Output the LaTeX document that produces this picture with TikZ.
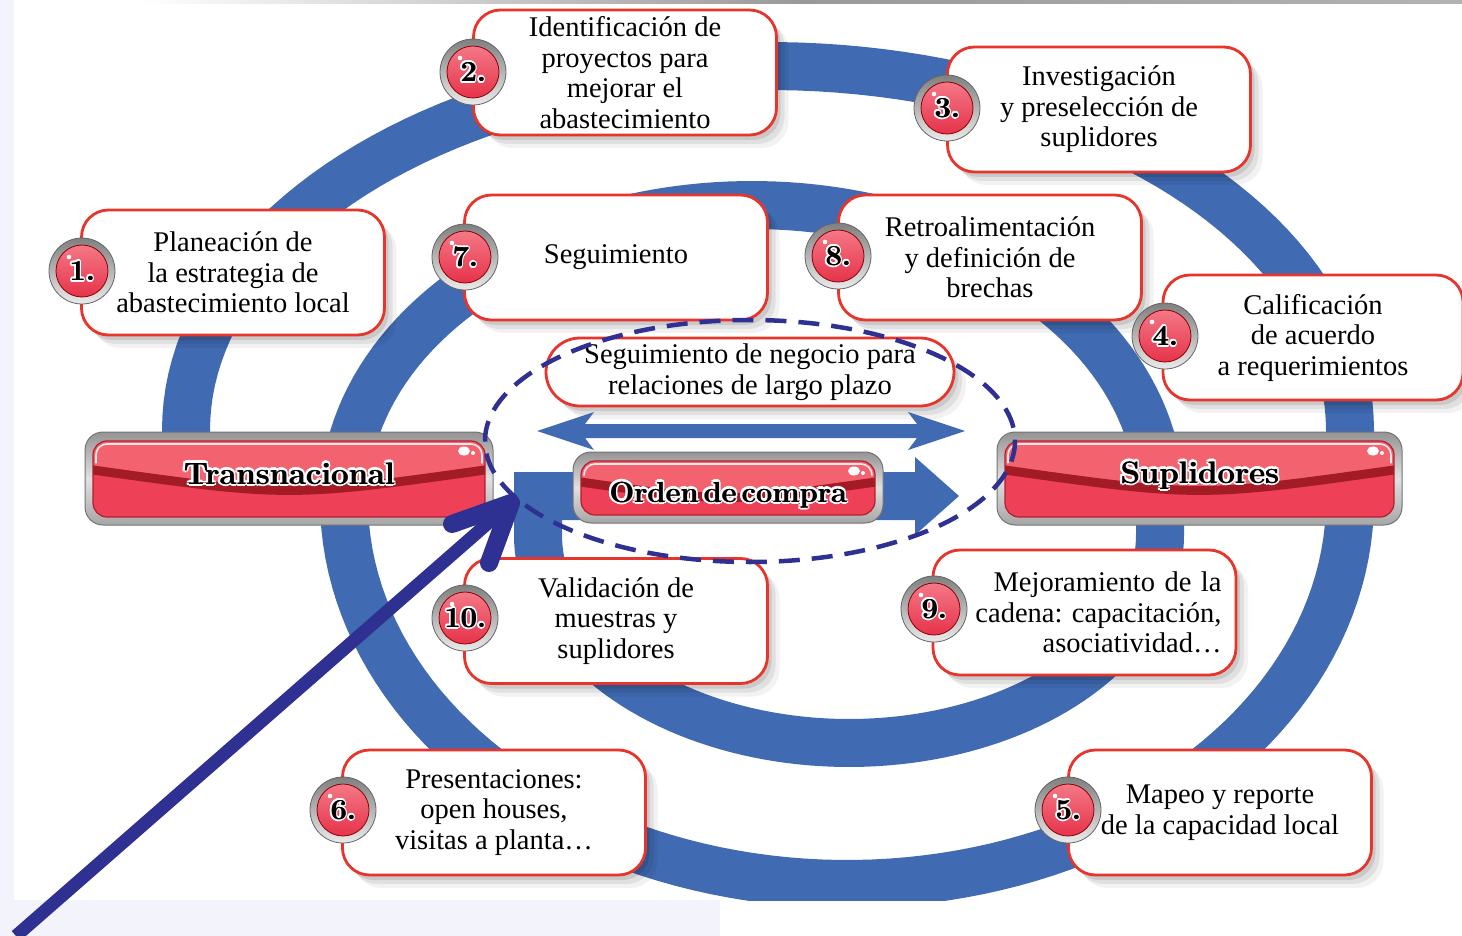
\documentclass[tikz,border=0pt]{standalone}
\usepackage{fontspec}
\newfontfamily\boxfont{Liberation Serif}
\usetikzlibrary{calc,shadows}
\definecolor{ringblue}{HTML}{406AB2}
\definecolor{boxred}{HTML}{E8352B}
\definecolor{navy}{HTML}{2E3192}
\definecolor{btnred}{HTML}{EE4056}
\definecolor{btnpink}{HTML}{F2636F}
\definecolor{btndark}{HTML}{A31B25}
\definecolor{btnedge}{HTML}{B51E2C}
\definecolor{badgered}{HTML}{E6334B}
\definecolor{badgepink}{HTML}{F47886}
\definecolor{lav}{HTML}{F3F3FB}
\newcommand\btnfont{\fontsize{31}{36}\selectfont\bfseries}
\newcommand\ordfont{\fontsize{29}{32}\selectfont\bfseries}
\newcommand\numfont{\fontsize{29}{32}\selectfont\bfseries}
\tikzset{
  softshadow/.style={
    drop shadow={shadow xshift=4pt,shadow yshift=-5pt,opacity=.10,fill=black},
    drop shadow={shadow xshift=8pt,shadow yshift=-9pt,opacity=.07,fill=black},
    drop shadow={shadow xshift=12pt,shadow yshift=-13pt,opacity=.05,fill=black}},
  box/.style={rectangle, draw=boxred, line width=2.8, fill=white, rounded corners=27,
    minimum width=303, minimum height=125, align=center, inner sep=0,
    font=\boxfont\fontsize{28.5}{30.5}\selectfont\frenchspacing, softshadow},
  spiral/.style={draw=ringblue, line width=48, line join=miter},
  btnframe/.style={rectangle, rounded corners=18, draw=black!55, line width=1,
    top color=black!42, bottom color=black!35, middle color=black!12, inner sep=0},
  badgering/.style={circle, minimum size=66, inner sep=0, draw=black!60, line width=.8,
    top color=black!50, bottom color=black!8},
  badgecore/.style={circle, minimum size=52, inner sep=0, draw=black!45!red, line width=.8,
    top color=badgepink, bottom color=badgered},
}
% outlined text: name, position, anchor, font, outline radius, text
\newcommand\outtext[6]{%
  \foreach \aa in {0,30,...,330}{%
    \node[text=white, font=#4, inner sep=0, anchor=#3] (#1o\aa) at ($(#2)+(\aa:#5)$) {#6};}
  \node[text=black, font=#4, inner sep=0, anchor=#3] (#1b) at ($(#2)+(0.7,0)$) {#6};
  \node[text=black, font=#4, inner sep=0, anchor=#3] (#1) at (#2) {#6};
}
% button: name, x1, y1, x2, y2, baseline y, font, text
\newcommand\mkbutton[8]{%
  \pgfmathsetmacro\bcx{(#2+#4)/2}
  \pgfmathsetmacro\bcy{(#3+#5)/2}
  \pgfmathsetmacro\bw{#4-#2}
  \pgfmathsetmacro\bh{#5-#3}
  \node[btnframe, minimum width=\bw, minimum height=\bh] (#1) at (\bcx,\bcy) {};
  \pgfmathsetmacro\xa{#2+8}\pgfmathsetmacro\ya{#3+9}
  \pgfmathsetmacro\xb{#4-8}\pgfmathsetmacro\yb{#5-8}
  \pgfmathsetmacro\yc{#3+0.36*\bh}
  \pgfmathsetmacro\yk{#3+0.66*\bh}
  \begin{scope}
    \clip[rounded corners=14] (\xa,\ya) rectangle (\xb,\yb);
    \fill[btnred] (\xa,\ya) rectangle (\xb,\yb);
    \fill[btnpink] (\xa,\ya) -- (\xb,\ya) -- (\xb,\yc) .. controls (\bcx,\yk) .. (\xa,\yc) -- cycle;
    \draw[btndark, line width=9] (\xa-4,\yc+4) .. controls (\bcx,\yk+4) .. (\xb+4,\yc+4);
    \draw[white, line width=1.6, opacity=.85, rounded corners=11] (\xa+3,\yc-2) -- (\xa+3,\ya+3) -- (\xb-3,\ya+3) -- (\xb-3,\yc-2);
  \end{scope}
  \draw[btnedge, line width=1.2, rounded corners=14] (\xa,\ya) rectangle (\xb,\yb);
  \fill[white] (\xb-21,\ya+10) ellipse [x radius=6, y radius=4.5];
  \fill[white] (\xb-12,\ya+12) circle [radius=2];
  \outtext{#1t}{\bcx,#6}{base}{#7}{2.2}{#8}
}
% badge: name, x, y, number
\newcommand\mkbadge[4]{%
  \node[badgering] (#1) at (#2,#3) {};
  \node[badgecore] (#1c) at (#2,#3) {};
  \fill[white] ($(#2,#3)+(-13,-14)$) circle [radius=2.3];
  \outtext{#1n}{#2,#3}{center}{\numfont}{1.8}{#4}
}
\begin{document}
\begin{tikzpicture}[x=1pt,y=-1pt]
\useasboundingbox (0,0) rectangle (1462,936);
\fill[white] (0,0) rectangle (1462,936);
% background details
\fill[lav] (0,0) rectangle (14,936);
\fill[lav] (0,900) rectangle (720,936);
\shade[left color=white, right color=black!30, middle color=black!40] (140,0) rectangle (1462,4);

% spiral
\begin{scope}
  \clip (0,0) rectangle (1462,900);
  \draw[spiral] (186,480) -- (186,430)
    -- plot[domain=180:360, samples=90] ({768+582*cos(\x)},{430+364*sin(\x)})
    -- plot[domain=0:180, samples=90] ({847+503*cos(\x)},{500+384*sin(\x)})
    -- plot[domain=180:360, samples=90] ({752+408*cos(\x)},{500+295*sin(\x)})
    -- plot[domain=0:180, samples=90] ({849+311*cos(\x)},{535+208*sin(\x)})
    -- (538,496) -- (916,496);
  \fill[ringblue] (915,457) -- (959,496) -- (915,535) -- cycle;
\end{scope}

% boxes
\node[box] (b1) at (233,272.5) {Planeación de\\la estrategia de\\abastecimiento local};
\node[box] (b2) at (625,72.5) {Identificación de\\proyectos para\\mejorar el\\abastecimiento};
\node[box] (b3) at (1099,109.5) {Investigación\\y preselección de\\suplidores};
\node[box, minimum width=300] (b4) at (1313,337.5) {Calificación\\de acuerdo\\a requerimientos};
\node[box] (b5) at (1220,812.5) {Mapeo y reporte\\de la capacidad local};
\node[box] (b6) at (494,812.5) {Presentaciones:\\open houses,\\visitas a planta\ldots};
\node[box] (b7) at (616,257.5) {Seguimiento};
\node[box] (b8) at (990,257.5) {Retroalimentación\\y definición de\\brechas};
\node[box, align=right, text width=274] (b9) at (1084.5,612.5) {Mejoramiento de la\\cadena: capacitación,\\asociatividad\ldots};
\node[box] (b10) at (616,621) {Validación de\\muestras y\\suplidores};
\node[box, minimum width=408, minimum height=68, rounded corners=34] (bc) at (750,372) {Seguimiento de negocio para\\relaciones de largo plazo};

% double arrow
\fill[ringblue] (537,431) -- (594,412) -- (585,424) -- (917,424) -- (908,412) -- (965,431)
  -- (908,450) -- (917,438) -- (585,438) -- (594,450) -- cycle;

% buttons
\mkbutton{trans}{85}{432}{493}{525}{484}{\btnfont}{Transnacional}
\mkbutton{supl}{997}{432}{1402}{525}{483}{\btnfont}{Suplidores}
\mkbutton{orden}{573}{452}{883}{523}{502}{\ordfont}{Orden\hspace{5pt}de\hspace{5pt}compra}

% badges
\mkbadge{n1}{82}{271}{1.}
\mkbadge{n2}{473}{72}{2.}
\mkbadge{n3}{947}{108}{3.}
\mkbadge{n4}{1165}{336}{4.}
\mkbadge{n5}{1068}{810}{5.}
\mkbadge{n6}{343}{810}{6.}
\mkbadge{n7}{465}{257}{7.}
\mkbadge{n8}{838}{256}{8.}
\mkbadge{n9}{934}{609}{9.}
\mkbadge{n10}{465}{618}{10.}

% dashed ellipse
\draw[navy, line width=4.5, dash pattern=on 21pt off 12pt] (750,441) ellipse [x radius=265, y radius=121];

% navy arrow
\coordinate (nS) at (16,936);
\coordinate (nT) at (511,503);
\coordinate (nH1) at (452,524);
\coordinate (nH2) at (489,563);
\draw[navy, line width=13] (nS) -- (nT);
\draw[navy, line width=18, line cap=round, line join=round] (nH1) -- (nT) -- (nH2);
\end{tikzpicture}
\end{document}
